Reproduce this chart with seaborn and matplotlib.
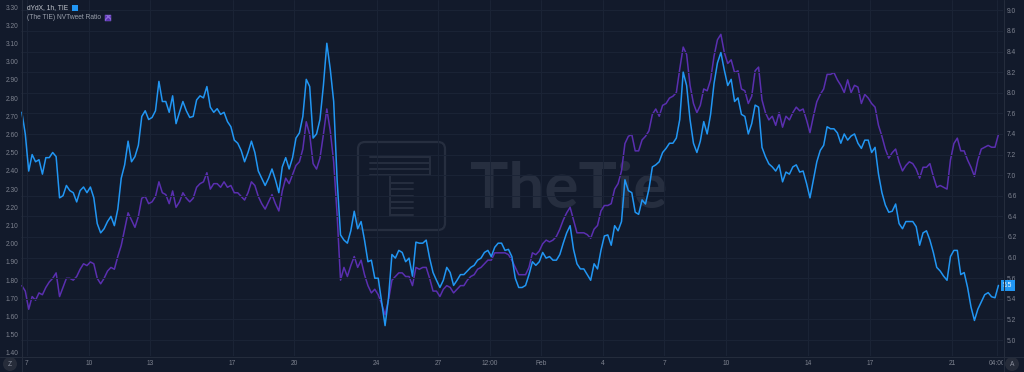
import numpy as np
import pandas as pd
import matplotlib
matplotlib.use("Agg")
import matplotlib.pyplot as plt
import seaborn as sns
from matplotlib.transforms import Affine2D
from matplotlib.patches import FancyBboxPatch, Rectangle, Ellipse
from matplotlib.lines import Line2D
from matplotlib.ticker import FixedLocator, FixedFormatter

# ---------------- data (4-hourly samples) ----------------
start_time = "2022-01-06 18:00"
step = "4h"

nvt_ratio = [
    1.77, 1.74, 1.64, 1.71, 1.69, 1.73, 1.72, 1.76, 1.79, 1.81,
    1.84, 1.71, 1.76, 1.81, 1.81, 1.80, 1.82, 1.86, 1.89, 1.88,
    1.90, 1.89, 1.81, 1.78, 1.81, 1.85, 1.87, 1.86, 1.93, 1.99,
    2.08, 2.17, 2.13, 2.09, 2.15, 2.25, 2.26, 2.22, 2.23, 2.26,
    2.34, 2.28, 2.27, 2.22, 2.29, 2.20, 2.23, 2.28, 2.25, 2.23,
    2.25, 2.31, 2.33, 2.34, 2.39, 2.30, 2.33, 2.33, 2.31, 2.34,
    2.31, 2.32, 2.28, 2.28, 2.26, 2.24, 2.28, 2.34, 2.32, 2.26,
    2.22, 2.19, 2.23, 2.27, 2.22, 2.18, 2.29, 2.36, 2.33, 2.38,
    2.43, 2.45, 2.52, 2.67, 2.60, 2.44, 2.41, 2.47, 2.60, 2.74,
    2.62, 2.45, 2.16, 1.80, 1.87, 1.82, 1.88, 1.93, 1.87, 1.91,
    1.83, 1.77, 1.73, 1.75, 1.72, 1.67, 1.61, 1.69, 1.80, 1.82,
    1.84, 1.84, 1.82, 1.82, 1.77, 1.87, 1.86, 1.87, 1.87, 1.81,
    1.74, 1.74, 1.71, 1.75, 1.77, 1.76, 1.73, 1.75, 1.77, 1.77,
    1.80, 1.82, 1.83, 1.86, 1.87, 1.89, 1.91, 1.91, 1.95, 1.95,
    1.95, 1.95, 1.94, 1.91, 1.87, 1.83, 1.83, 1.83, 1.87, 1.95,
    1.94, 1.96, 2.00, 2.02, 2.01, 2.02, 2.04, 2.08, 2.13, 2.17,
    2.20, 2.13, 2.06, 2.06, 2.06, 2.05, 2.03, 2.08, 2.10, 2.18,
    2.21, 2.21, 2.22, 2.30, 2.33, 2.40, 2.55, 2.59, 2.60, 2.51,
    2.51, 2.57, 2.59, 2.62, 2.71, 2.74, 2.70, 2.76, 2.77, 2.80,
    2.81, 2.83, 2.96, 3.08, 3.04, 2.87, 2.77, 2.72, 2.76, 2.85,
    2.84, 2.90, 3.03, 3.12, 3.15, 3.05, 2.99, 3.01, 2.94, 2.95,
    2.85, 2.84, 2.77, 2.81, 2.95, 2.97, 2.79, 2.72, 2.68, 2.70,
    2.65, 2.72, 2.64, 2.70, 2.68, 2.72, 2.75, 2.73, 2.74, 2.68,
    2.61, 2.70, 2.78, 2.82, 2.85, 2.93, 2.93, 2.94, 2.90, 2.87,
    2.83, 2.90, 2.83, 2.87, 2.86, 2.77, 2.82, 2.80, 2.77, 2.75,
    2.65, 2.59, 2.52, 2.47, 2.50, 2.52, 2.45, 2.40, 2.43, 2.45,
    2.44, 2.41, 2.36, 2.42, 2.42, 2.44, 2.37, 2.31, 2.32, 2.31,
    2.30, 2.46, 2.55, 2.58, 2.51, 2.51, 2.46, 2.42, 2.37, 2.46,
    2.52, 2.53, 2.54, 2.53, 2.53, 2.60,
]

dydx_price = [
    7.62, 7.40, 7.04, 7.20, 7.13, 7.15, 7.01, 7.17, 7.17, 7.22,
    7.18, 6.58, 6.60, 6.80, 6.70, 6.66, 6.54, 6.70, 6.77, 6.66,
    6.77, 6.58, 6.33, 6.24, 6.28, 6.35, 6.40, 6.31, 6.47, 6.94,
    7.10, 7.33, 7.13, 7.18, 7.29, 7.57, 7.65, 7.54, 7.56, 7.65,
    8.11, 7.83, 7.83, 7.62, 7.94, 7.50, 7.62, 7.83, 7.65, 7.56,
    7.57, 7.86, 7.94, 7.90, 8.06, 7.72, 7.62, 7.69, 7.59, 7.62,
    7.52, 7.47, 7.34, 7.31, 7.24, 7.13, 7.22, 7.33, 7.22, 7.04,
    6.94, 6.80, 6.94, 7.06, 6.91, 6.66, 7.08, 7.17, 7.06, 7.17,
    7.36, 7.41, 7.57, 8.13, 8.06, 7.36, 7.40, 7.54, 8.07, 8.48,
    8.23, 7.83, 6.91, 6.22, 6.17, 6.14, 6.26, 6.45, 6.28, 6.35,
    6.17, 5.92, 5.95, 5.60, 5.60, 5.37, 5.14, 5.41, 6.03, 5.99,
    6.07, 6.05, 5.92, 5.99, 5.64, 6.15, 6.14, 6.14, 6.17, 5.99,
    5.71, 5.58, 5.51, 5.58, 5.81, 5.71, 5.53, 5.58, 5.67, 5.67,
    5.74, 5.81, 5.85, 5.95, 5.99, 6.05, 6.07, 6.01, 6.10, 6.14,
    6.14, 6.07, 6.08, 6.01, 5.60, 5.51, 5.51, 5.53, 5.67, 5.92,
    5.85, 5.92, 6.05, 5.99, 6.01, 5.95, 5.95, 6.03, 6.14, 6.24,
    6.31, 6.08, 5.88, 5.78, 5.78, 5.67, 5.58, 5.88, 5.78, 6.07,
    6.21, 6.22, 6.12, 6.31, 6.26, 6.35, 6.91, 6.70, 6.66, 6.44,
    6.42, 6.56, 6.52, 6.73, 7.08, 7.10, 7.13, 7.22, 7.26, 7.31,
    7.31, 7.36, 7.54, 8.20, 8.07, 7.54, 7.31, 7.22, 7.33, 7.52,
    7.40, 7.59, 8.09, 8.29, 8.39, 8.22, 8.07, 8.13, 7.83, 7.90,
    7.59, 7.57, 7.40, 7.50, 7.76, 7.72, 7.27, 7.18, 7.11, 7.08,
    7.04, 7.10, 6.87, 7.03, 7.01, 7.08, 7.10, 7.03, 7.04, 6.84,
    6.58, 6.91, 7.13, 7.24, 7.29, 7.47, 7.45, 7.45, 7.41, 7.31,
    7.40, 7.34, 7.38, 7.40, 7.31, 7.26, 7.34, 7.34, 7.22, 7.27,
    7.01, 6.66, 6.51, 6.44, 6.45, 6.52, 6.33, 6.28, 6.35, 6.35,
    6.35, 6.30, 6.12, 6.24, 6.26, 6.17, 6.05, 5.81, 5.74, 5.64,
    5.58, 6.01, 6.07, 6.07, 5.67, 5.71, 5.51, 5.32, 5.19, 5.30,
    5.37, 5.44, 5.46, 5.42, 5.41, 5.53,
]

left_ticks = [1.40, 1.50, 1.60, 1.70, 1.80, 1.90, 2.00, 2.10, 2.20, 2.30,
              2.40, 2.50, 2.60, 2.70, 2.80, 2.90, 3.00, 3.10, 3.20, 3.30]
right_ticks = [5.0, 5.2, 5.4, 5.6, 6.0, 6.2, 6.4, 6.6, 7.0, 7.2, 7.4, 7.6,
               8.0, 8.2, 8.4, 8.6, 9.0]
x_tick_times = ["2022-01-07", "2022-01-10", "2022-01-13", "2022-01-17",
                "2022-01-20", "2022-01-24", "2022-01-27", "2022-01-29 12:00",
                "2022-02-01", "2022-02-04", "2022-02-07", "2022-02-10",
                "2022-02-14", "2022-02-17", "2022-02-21", "2022-02-23 04:00"]
x_tick_labels = ["7", "10", "13", "17", "20", "24", "27", "12:00", "Feb",
                 "4", "7", "10", "14", "17", "21", "04:00"]
legend_title = "dYdX, 1h, TIE"
legend_second = "(The TIE) NVTweet Ratio"
watermark = "TheTie"

# ---------------- styling ----------------
BG = "#121a2b"
GRID = "#1b2436"
SEP = "#242c3c"
TXT = "#7d828f"
BLUE = "#2196f3"
PURPLE = "#5a2fb0"
WM = "#262e3f"

sns.set_theme(style="dark")
plt.rcParams["font.family"] = ["Liberation Sans", "DejaVu Sans"]
FS = 4.8

W, H = 1024, 372
fig = plt.figure(figsize=(W / 100, H / 100), dpi=100, facecolor=BG)
px = Affine2D().scale(1 / 100, -1 / 100).translate(0, H / 100) + fig.dpi_scale_trans

df = pd.DataFrame({
    "time": pd.date_range(start_time, periods=len(nvt_ratio), freq=step),
    "nvt": nvt_ratio,
    "dydx": dydx_price,
})

ax = fig.add_axes([21 / W, 16 / H, 982 / W, 356 / H])
ax.patch.set_visible(False)
ax2 = ax.twinx()
ax2.patch.set_visible(False)

# watermark (behind everything)
wm_kw = dict(transform=px, zorder=-5)
fig.add_artist(FancyBboxPatch((358, 142), 87, 88, boxstyle="round,pad=0,rounding_size=7",
                              fill=False, ec=WM, lw=1.6, **wm_kw))
for yy in (157, 163, 169, 175):
    fig.add_artist(Line2D([370, 430], [yy, yy], color=WM, lw=1.4, **wm_kw))
fig.add_artist(Line2D([430, 430], [157, 175], color=WM, lw=1.4, **wm_kw))
fig.add_artist(Line2D([390, 390], [175, 216], color=WM, lw=1.4, **wm_kw))
for yy in (183, 189, 196, 202, 208, 215):
    fig.add_artist(Line2D([390, 413], [yy, yy], color=WM, lw=1.4, **wm_kw))
fig.text(470, 208, watermark, transform=px, ha="left", va="baseline",
         fontsize=46, family=["Lato", "DejaVu Sans"], weight="bold", color=WM, zorder=-5)

# lines
sns.lineplot(data=df, x="time", y="nvt", ax=ax, color=PURPLE, lw=1.1, legend=False)
sns.lineplot(data=df, x="time", y="dydx", ax=ax2, color=BLUE, lw=1.1, legend=False)

# x axis
ax.set_xlim(pd.Timestamp("2022-01-06 17:00"), pd.Timestamp("2022-02-23 11:20"))
ax.set_xticks([pd.Timestamp(t) for t in x_tick_times])
ax.set_xticklabels(x_tick_labels)
ax.tick_params(axis="x", length=0, pad=3.2, labelsize=FS, labelcolor=TXT)
for lab in ax.get_xticklabels():
    lab.set_clip_on(True)
    lab.set_clip_path(Rectangle((0, 356), 1003, 16, transform=px))
ax.set_xlabel("")

# left axis
ax.set_ylim(1.3835, 3.3385)
ax.yaxis.set_major_locator(FixedLocator(left_ticks))
ax.yaxis.set_major_formatter(FixedFormatter([f"{v:.2f}" for v in left_ticks]))
ax.tick_params(axis="y", length=0, pad=2.0, labelsize=FS, labelcolor=TXT)
ax.set_ylabel("")
for lab in ax.get_yticklabels():
    lab.set_clip_on(True)
    lab.set_clip_path(Rectangle((0, 0), 21, 356, transform=px))

# right axis (price scale with TradingView-like label spacing)
r_vals = np.array([4.0] + right_ticks + [10.0])
r_pos = np.array([-5.0] + list(range(len(right_ticks))) + [len(right_ticks) - 1 + 2.5])
ax2.set_yscale("function", functions=(lambda v: np.interp(v, r_vals, r_pos),
                                      lambda p: np.interp(p, r_pos, r_vals)))
ax2.set_ylim(4.845, 9.2)
ax2.yaxis.set_major_locator(FixedLocator(right_ticks))
ax2.yaxis.set_major_formatter(FixedFormatter([f"{v:.1f}" for v in right_ticks]))
ax2.tick_params(axis="y", length=0, pad=3.0, labelsize=FS, labelcolor=TXT)
ax2.set_ylabel("")

# grids
ax.grid(False)
ax.xaxis.grid(True, color=GRID, lw=0.7)
ax2.yaxis.grid(True, color=GRID, lw=0.7)
ax2.set_axisbelow(True)
for a in (ax, ax2):
    for s in a.spines.values():
        s.set_visible(False)

# last price label
last = dydx_price[-1]
ax2.text(1.0, last, f"{last:.1f}", transform=ax2.get_yaxis_transform(), ha="left",
         va="center", fontsize=FS, color="white", clip_on=False,
         bbox=dict(boxstyle="square,pad=0.35", fc=BLUE, ec="none"))

# separators
fig.add_artist(Line2D([21.5, 21.5], [0, H], color=SEP, lw=0.8, transform=px))
fig.add_artist(Line2D([1003.5, 1003.5], [0, H], color=SEP, lw=0.8, transform=px))
fig.add_artist(Line2D([0, W], [356.5, 356.5], color=SEP, lw=0.8, transform=px))

# legend
fig.text(27, 7.5, legend_title, transform=px, ha="left", va="center",
         fontsize=FS, color="#c4c8d0")
fig.add_artist(Rectangle((72, 4.5), 6, 6, fc=BLUE, ec="none", transform=px))
fig.text(27, 17.5, legend_second, transform=px, ha="left", va="center",
         fontsize=FS, color="#9aa0ac")
fig.add_artist(Rectangle((105, 14.5), 6, 6, fc=PURPLE, ec="#8a6ad8", lw=0.3,
                         hatch="xxxx", transform=px))

# corner buttons
for cx, letter in ((10, "Z"), (1012, "A")):
    fig.add_artist(Ellipse((cx, 364), 14, 14, fc="#262c3a", ec="none", transform=px))
    fig.text(cx, 364, letter, transform=px, ha="center", va="center",
             fontsize=FS, color="#8d92a0")

fig.savefig("out.png", dpi=100, facecolor=BG)
